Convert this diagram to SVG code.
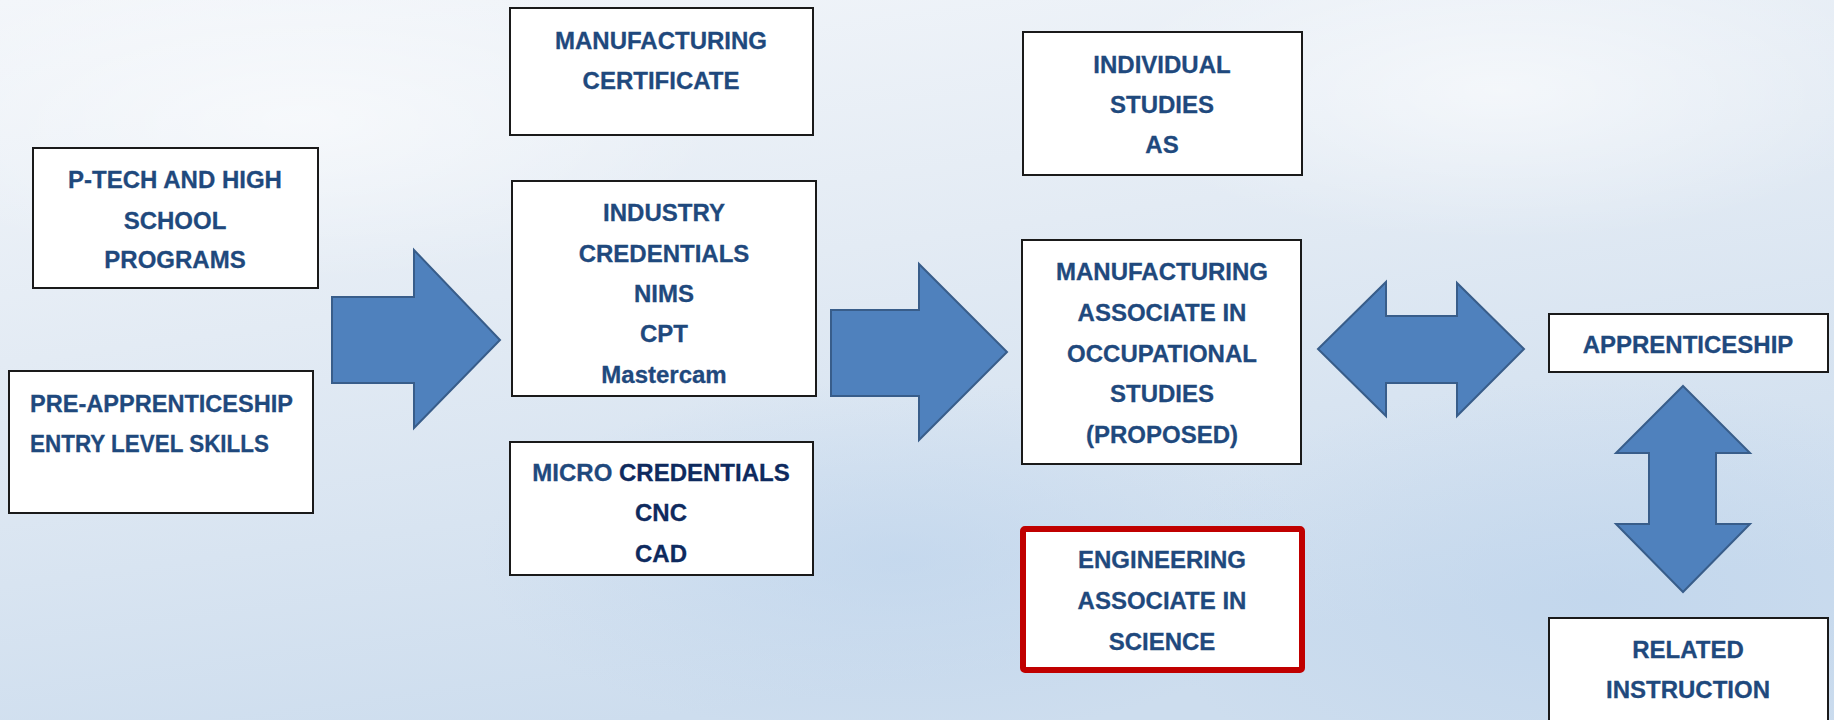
<svg xmlns="http://www.w3.org/2000/svg" width="1834" height="720" viewBox="0 0 1834 720">
  <defs>
    <linearGradient id="bg" x1="0" y1="0" x2="0.35" y2="1">
      <stop offset="0" stop-color="#F3F6FA"/>
      <stop offset="0.45" stop-color="#E3EBF4"/>
      <stop offset="1" stop-color="#CDDDEE"/>
    </linearGradient>
    <radialGradient id="cloud1" cx="0.5" cy="0.5" r="0.5">
      <stop offset="0" stop-color="#FFFFFF" stop-opacity="0.55"/>
      <stop offset="1" stop-color="#FFFFFF" stop-opacity="0"/>
    </radialGradient>
    <radialGradient id="blue1" cx="0.5" cy="0.5" r="0.5">
      <stop offset="0" stop-color="#BCD3EC" stop-opacity="0.6"/>
      <stop offset="1" stop-color="#BCD3EC" stop-opacity="0"/>
    </radialGradient>
    <style>
      .box { fill: #FFFFFF; stroke: #1A1A1A; stroke-width: 2; }
      .red { fill: #FFFFFF; stroke: #C00000; stroke-width: 6; }
      .arrow { fill: #4F81BD; stroke: #385D8A; stroke-width: 2; stroke-linejoin: miter; }
      text { font-family: "Liberation Sans", Arial, sans-serif; font-weight: bold; font-size: 24px; fill: #1F497D; stroke: #1F497D; stroke-width: 0.3; }
      .c { text-anchor: middle; }
      .dk { fill: #0E2A5E; stroke: #0E2A5E; }
    </style>
  </defs>

  <rect x="0" y="0" width="1834" height="720" fill="url(#bg)"/>
  <ellipse cx="300" cy="120" rx="420" ry="160" fill="url(#cloud1)"/>
  <ellipse cx="1500" cy="90" rx="400" ry="150" fill="url(#cloud1)"/>
  <ellipse cx="1600" cy="600" rx="450" ry="220" fill="url(#blue1)"/>
  <ellipse cx="900" cy="560" rx="420" ry="180" fill="url(#blue1)"/>

  <g id="connectors">
    <path class="arrow" d="M332,297 L414,297 L414,250 L500,340 L414,428 L414,383 L332,383 Z"/>
    <path class="arrow" d="M831,310 L919,310 L919,264 L1007,352 L919,440 L919,396 L831,396 Z"/>
    <path class="arrow" d="M1318,349 L1386,282 L1386,316 L1457,316 L1457,283 L1524,349 L1457,416 L1457,383 L1386,383 L1386,416 Z"/>
    <path class="arrow" d="M1683,386 L1750,453 L1716,453 L1716,524 L1750,524 L1683,592 L1616,524 L1649,524 L1649,453 L1616,453 Z"/>
  </g>

  <g id="ptech">
    <rect class="box" x="33" y="148" width="285" height="140"/>
    <text class="c" x="175" y="188">P-TECH AND HIGH</text>
    <text class="c" x="175" y="229">SCHOOL</text>
    <text class="c" x="175" y="268">PROGRAMS</text>
  </g>

  <g id="preapp">
    <rect class="box" x="9" y="371" width="304" height="142"/>
    <text x="30" y="412" textLength="263" lengthAdjust="spacingAndGlyphs">PRE-APPRENTICESHIP</text>
    <text x="30" y="452" textLength="239" lengthAdjust="spacingAndGlyphs">ENTRY LEVEL SKILLS</text>
  </g>

  <g id="mfgcert">
    <rect class="box" x="510" y="8" width="303" height="127"/>
    <text class="c" x="661" y="49">MANUFACTURING</text>
    <text class="c" x="661" y="89">CERTIFICATE</text>
  </g>

  <g id="industry">
    <rect class="box" x="512" y="181" width="304" height="215"/>
    <text class="c" x="664" y="221">INDUSTRY</text>
    <text class="c" x="664" y="262">CREDENTIALS</text>
    <text class="c" x="664" y="302">NIMS</text>
    <text class="c" x="664" y="342">CPT</text>
    <text class="c" x="664" y="383">Mastercam</text>
  </g>

  <g id="micro">
    <rect class="box" x="510" y="442" width="303" height="133"/>
    <text class="c" x="661" y="481">MICRO <tspan class="dk">CREDENTIALS</tspan></text>
    <text class="c dk" x="661" y="521">CNC</text>
    <text class="c dk" x="661" y="562">CAD</text>
  </g>

  <g id="individual">
    <rect class="box" x="1023" y="32" width="279" height="143"/>
    <text class="c" x="1162" y="73">INDIVIDUAL</text>
    <text class="c" x="1162" y="113">STUDIES</text>
    <text class="c" x="1162" y="153">AS</text>
  </g>

  <g id="mfgassoc">
    <rect class="box" x="1022" y="240" width="279" height="224"/>
    <text class="c" x="1162" y="280">MANUFACTURING</text>
    <text class="c" x="1162" y="321">ASSOCIATE IN</text>
    <text class="c" x="1162" y="362">OCCUPATIONAL</text>
    <text class="c" x="1162" y="402">STUDIES</text>
    <text class="c" x="1162" y="443">(PROPOSED)</text>
  </g>

  <g id="engineering">
    <rect class="red" x="1023" y="529" width="279" height="141" rx="2"/>
    <text class="c" x="1162" y="568">ENGINEERING</text>
    <text class="c" x="1162" y="609">ASSOCIATE IN</text>
    <text class="c" x="1162" y="650">SCIENCE</text>
  </g>

  <g id="apprenticeship">
    <rect class="box" x="1549" y="314" width="279" height="58"/>
    <text class="c" x="1688" y="353">APPRENTICESHIP</text>
  </g>

  <g id="related">
    <rect class="box" x="1549" y="618" width="279" height="120"/>
    <text class="c" x="1688" y="658">RELATED</text>
    <text class="c" x="1688" y="698">INSTRUCTION</text>
  </g>
</svg>
